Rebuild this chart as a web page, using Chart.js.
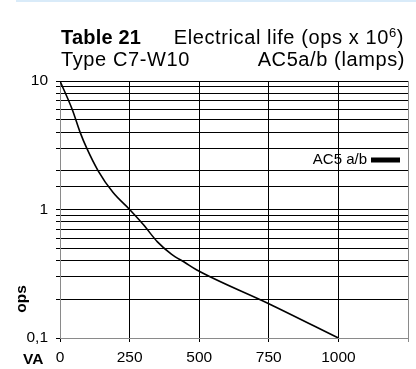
<!DOCTYPE html>
<html>
<head>
<meta charset="utf-8">
<script src="https://cdn.jsdelivr.net/npm/chart.js@4"></script>
<style>
  body { margin: 0; background: #fff; font-family: "Liberation Sans", Arial, sans-serif; }
  #wrap { position: relative; width: 416px; height: 369px; }
  #band { position: absolute; left: 16px; top: 0; width: 400px; height: 2px; background: #d9ebf9; }
  .t { position: absolute; font-size: 20px; color: #000; white-space: nowrap; line-height: 22px; letter-spacing: 0.6px; }
  .t b { letter-spacing: 0.2px; }
  sup { font-size: 13px; vertical-align: 7px; line-height: 0; }
  canvas { position: absolute; left: 0; top: 0; }
</style>
</head>
<body>
<div id="wrap">
  <div id="band"></div>
  <canvas id="chart" width="416" height="369"></canvas>
  <div class="t" style="left:61px;top:26px"><b>Table 21</b></div>
  <div class="t" style="right:12px;top:26px">Electrical life (ops x 10<sup>6</sup>)</div>
  <div class="t" style="left:61px;top:48px">Type C7-W10</div>
  <div class="t" style="right:11px;top:48px">AC5a/b (lamps)</div>
</div>
<script>
const seriesLabel = 'AC5 a/b';
const va = [0, 44, 72, 96, 137, 190, 250, 300, 350, 400, 450, 490, 750, 1000];
const ops = [10, 6, 4, 3, 2, 1.36, 1, 0.76, 0.56, 0.45, 0.385, 0.34, 0.185, 0.1];
const majorTicks = {10: '10', 1: '1', 0.1: '0,1'};
const FONT = '"Liberation Sans", Arial, sans-serif';

const legendPlugin = {
  id: 'inlineLegend',
  afterDraw(chart) {
    const {ctx} = chart;
    const y = 160;
    ctx.save();
    ctx.fillStyle = '#000';
    ctx.font = '15px ' + FONT;
    ctx.textAlign = 'right';
    ctx.textBaseline = 'middle';
    ctx.fillText(chart.data.datasets[0].label, 367, y);
    ctx.fillRect(371, y - 2.5, 29, 5);
    ctx.restore();
  }
};

const axisTitles = {
  id: 'axisTitles',
  afterDraw(chart) {
    const {ctx} = chart;
    ctx.save();
    ctx.fillStyle = '#000';
    ctx.font = 'bold 15.5px ' + FONT;
    ctx.textBaseline = 'middle';
    ctx.textAlign = 'left';
    ctx.fillText('VA', 23, 360);
    ctx.translate(22, 299);
    ctx.rotate(-Math.PI / 2);
    ctx.textAlign = 'center';
    ctx.fillText('ops', 0, 0);
    ctx.restore();
  }
};

new Chart(document.getElementById('chart'), {
  type: 'line',
  data: {
    datasets: [{
      label: seriesLabel,
      data: va.map((x, i) => ({x: x, y: ops[i]})),
      borderColor: '#000',
      borderWidth: 1.6,
      pointRadius: 0,
      cubicInterpolationMode: 'monotone',
      fill: false
    }]
  },
  options: {
    responsive: false,
    animation: false,
    layout: {padding: {left: 0, right: 8, top: 81, bottom: 0}},
    plugins: {legend: {display: false}, tooltip: {enabled: false}},
    scales: {
      x: {
        type: 'linear',
        min: 0,
        max: 1250,
        afterFit(s) { s.height = 31; },
        ticks: {
          stepSize: 250,
          color: '#000',
          padding: 6,
          maxRotation: 0,
          font: {family: FONT, size: 15.5},
          callback: v => v === 1250 ? '' : String(v)
        },
        grid: {
          color: c => (c.tick && c.tick.value === 1250) ? '#8a8a8a' : '#000',
          lineWidth: 1,
          tickLength: 4
        },
        border: {color: '#8a8a8a'}
      },
      y: {
        type: 'logarithmic',
        min: 0.1,
        max: 10,
        afterFit(s) { s.width = 60; },
        ticks: {
          autoSkip: false,
          color: '#000',
          padding: 8,
          font: {family: FONT, size: 15.5},
          callback: v => majorTicks[v] !== undefined ? majorTicks[v] : ''
        },
        grid: {color: '#000', lineWidth: 1, tickLength: 4},
        border: {color: '#8a8a8a'}
      }
    }
  },
  plugins: [legendPlugin, axisTitles]
});
</script>
</body>
</html>
